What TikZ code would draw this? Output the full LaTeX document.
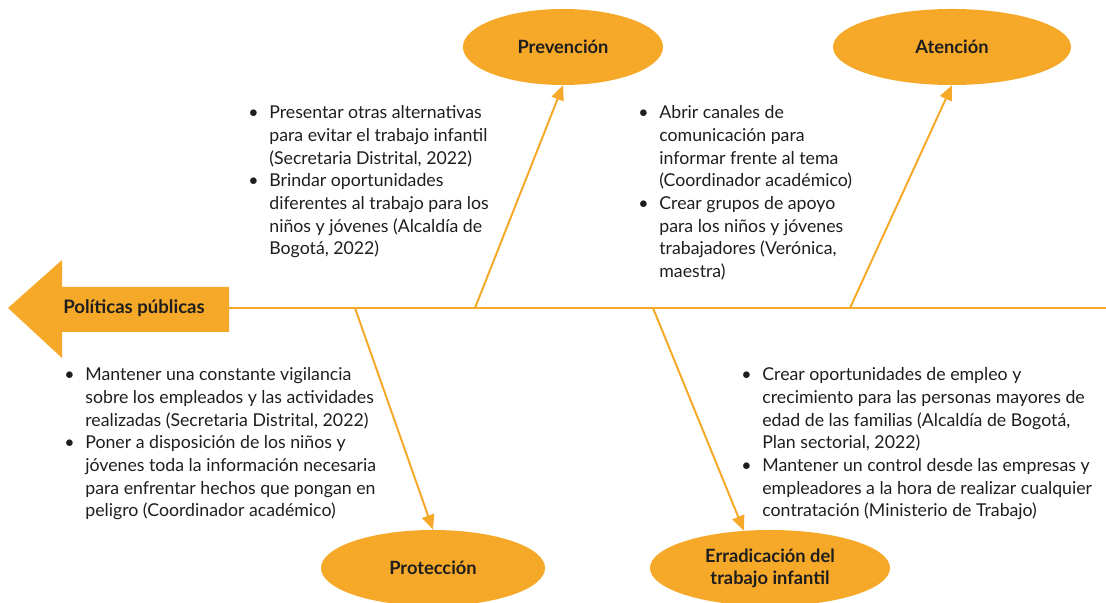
\documentclass[tikz,border=0pt]{standalone}
\usepackage{fontspec}
\setmainfont{Lato}
\usetikzlibrary{arrows.meta,shapes.geometric}
\definecolor{naranja}{HTML}{F6A828}
\definecolor{texto}{HTML}{1E1E1E}
\newcommand{\punto}{\makebox[15pt][l]{\textbullet}}
\begin{document}
\begin{tikzpicture}[x=0.025cm,y=-0.025cm,
    causa/.style={ellipse, fill=naranja, inner sep=0pt, minimum height=1.9cm,
      align=center, text=texto, font=\bfseries\fontsize{13}{15.5}\selectfont},
    espina/.style={draw=naranja, line width=1.4pt, -{Triangle[length=10.5pt,width=9pt]}},
    lista/.style={anchor=base west, inner sep=0pt, text=texto,
      font=\fontsize{12.6}{16.1}\selectfont}]
            \useasboundingbox (0,0) rectangle (1106,603);
            % cabeza
            \fill [naranja] (8,308) -- (62,260) -- (62,287) -- (229,287) -- (229,332)
                -- (62,332) -- (62,358) -- cycle;
            \node [text=texto, font=\bfseries\fontsize{13.2}{15.5}\selectfont] (pol) at (134,308) {Políticas públicas};
            \coordinate (ini) at (229,308);
            \coordinate (fin) at (1106,308);
            \draw [naranja, line width=1.4pt] (ini) -- (fin);
            % causas
            \node [causa, minimum width=5cm] (prev) at (563,47) {Prevención};
            \node [causa, minimum width=5.95cm] (aten) at (952,47) {Atención};
            \node [causa, minimum width=5.6cm] (prot) at (433,568) {Protección};
            \node [causa, minimum width=6cm] (erra) at (770,568) {Erradicación del\\trabajo infantil};
            \coordinate (r1) at (475,308);
            \coordinate (r2) at (850,308);
            \coordinate (r3) at (355,308);
            \coordinate (r4) at (653,308);
            \draw [espina] (r1) to (prev.south);
            \draw [espina] (r2) to (aten.south);
            \draw [espina] (r3) to (prot.north);
            \draw [espina] (r4) to (erra.125);
            % listas
            \node [lista] (l1) at (248,119) {\begin{tabular}[t]{@{}l@{}l@{}}
                \punto & Presentar otras alternativas\\
                & para evitar el trabajo infantil\\
                & (Secretaria Distrital, 2022)\\
                \punto & Brindar oportunidades\\
                & diferentes al trabajo para los\\
                & niños y jóvenes (Alcaldía de\\
                & Bogotá, 2022)
              \end{tabular}};
            \node [lista] (l2) at (638,119) {\begin{tabular}[t]{@{}l@{}l@{}}
                \punto & Abrir canales de\\
                & comunicación para\\
                & informar frente al tema\\
                & (Coordinador académico)\\
                \punto & Crear grupos de apoyo\\
                & para los niños y jóvenes\\
                & trabajadores (Verónica,\\
                & maestra)
              \end{tabular}};
            \node [lista] (l3) at (64,381) {\begin{tabular}[t]{@{}l@{}l@{}}
                \punto & Mantener una constante vigilancia\\
                & sobre los empleados y las actividades\\
                & realizadas (Secretaria Distrital, 2022)\\
                \punto & Poner a disposición de los niños y\\
                & jóvenes toda la información necesaria\\
                & para enfrentar hechos que pongan en\\
                & peligro (Coordinador académico)
              \end{tabular}};
            \node [lista] (l4) at (741,381) {\begin{tabular}[t]{@{}l@{}l@{}}
                \punto & Crear oportunidades de empleo y\\
                & crecimiento para las personas mayores de\\
                & edad de las familias (Alcaldía de Bogotá,\\
                & Plan sectorial, 2022)\\
                \punto & Mantener un control desde las empresas y\\
                & empleadores a la hora de realizar cualquier\\
                & contratación (Ministerio de Trabajo)
              \end{tabular}};
        \end{tikzpicture}
\end{document}
